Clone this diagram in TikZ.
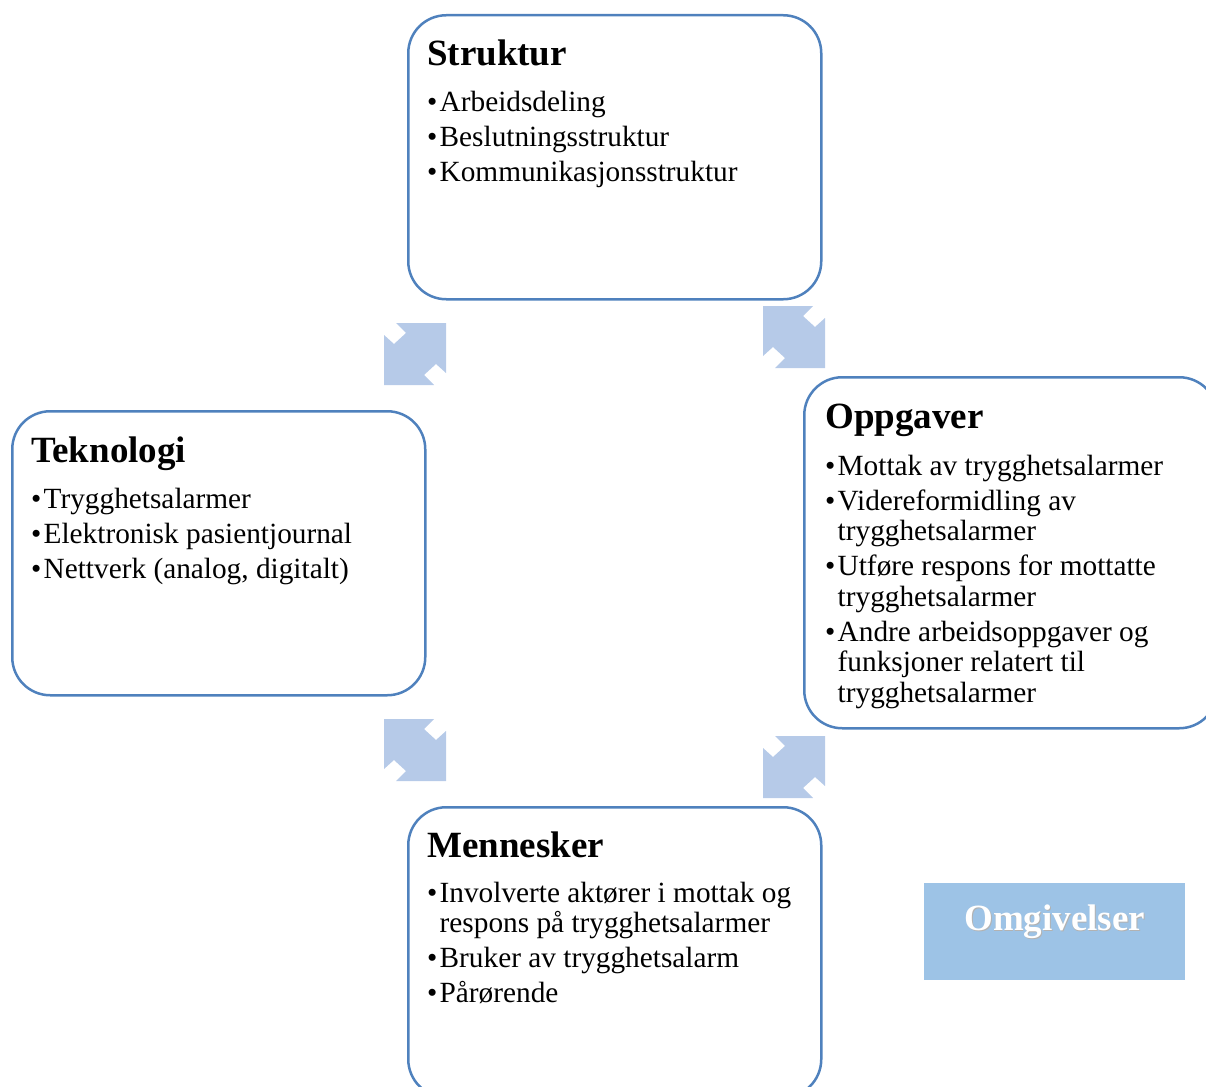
\documentclass[tikz,border=0pt]{standalone}
\usepackage{fontspec}
\setmainfont{Liberation Serif}
\usepackage{xcolor}
\definecolor{boxline}{RGB}{79,129,189}
\definecolor{arrowblue}{RGB}{182,202,232}
\definecolor{envblue}{RGB}{157,195,230}
\newcommand{\bodytext}{\fontsize{29.3}{30.5}\selectfont}
\newcommand{\headtext}{\fontsize{37}{40}\selectfont\bfseries}
\newcommand{\bul}{\par\hangindent=12.5pt\hangafter=1\noindent\makebox[12.5pt][l]{\textbullet}}
\newcommand{\itemlist}[1]{\parbox[t]{380pt}{\bodytext\raggedright\setlength{\parskip}{4.5pt}#1}}

\begin{document}
\begin{tikzpicture}[x=1pt, y=-1pt,
    panel/.style = {draw=boxline, line width=2.5pt, rounded corners=38pt,
      minimum width=413pt, minimum height=284pt, inner sep=0pt, anchor=north west},
    heading/.style = {anchor=base west, inner sep=0pt, font=\headtext},
    items/.style = {anchor=base west, inner sep=0pt},
    notchsq/.pic = {\fill[arrowblue] (12,0) -- (62,0) -- (62,50) -- (52,41) -- (40,52)
      -- (50,62) -- (0,62) -- (0,12) -- (10,21) -- (22,10) -- cycle;}]
    \path[use as bounding box, clip] (0,0) rectangle (1206,1086);

    \node[panel] (struktur) at (407,14) {};
    \node[panel] (teknologi) at (11,410) {};
    \node[panel, minimum height=351pt] (oppgaver) at (803,376) {};
    \node[panel, minimum height=290pt] (mennesker) at (407,806) {};

    \node[heading] (struktur-head) at ([shift={(20,52)}]struktur.north west) {Struktur};
    \node[items] (struktur-items) at ([shift={(20,98)}]struktur.north west) {\itemlist{
        \bul Arbeidsdeling
        \bul Beslutningsstruktur
        \bul Kommunikasjonsstruktur}};

    \node[heading] (teknologi-head) at ([shift={(20,52)}]teknologi.north west) {Teknologi};
    \node[items] (teknologi-items) at ([shift={(20,98)}]teknologi.north west) {\itemlist{
        \bul Trygghetsalarmer
        \bul Elektronisk pasientjournal
        \bul Nettverk (analog, digitalt)}};

    \node[heading] (oppgaver-head) at ([shift={(22,52)}]oppgaver.north west) {Oppgaver};
    \node[items] (oppgaver-items) at ([shift={(22,99)}]oppgaver.north west) {\itemlist{
        \bul Mottak av trygghetsalarmer
        \bul Videreformidling av\newline trygghetsalarmer
        \bul Utføre respons for mottatte\newline trygghetsalarmer
        \bul Andre arbeidsoppgaver og\newline funksjoner relatert til\newline trygghetsalarmer}};

    \node[heading] (mennesker-head) at ([shift={(20,51)}]mennesker.north west) {Mennesker};
    \node[items] (mennesker-items) at ([shift={(20,96)}]mennesker.north west) {\itemlist{
        \bul Involverte aktører i mottak og\newline respons på trygghetsalarmer
        \bul Bruker av trygghetsalarm
        \bul Pårørende}};

    \pic at (384,323) {notchsq};
    \pic[xscale=-1] at (825,306) {notchsq};
    \pic[xscale=-1] at (446,719) {notchsq};
    \pic at (763,736) {notchsq};

    \node[fill=envblue, minimum width=261pt, minimum height=97pt, inner sep=0pt,
      anchor=north west] (omgivelser) at (924,883) {};
    \node[anchor=base, inner sep=0pt, font=\headtext, text=black!30]
      (omgivelser-shadow) at ([shift={(0.8,48.5)}]omgivelser.north) {Omgivelser};
    \node[anchor=base, inner sep=0pt, font=\headtext, text=white]
      (omgivelser-label) at ([shift={(0,47)}]omgivelser.north) {Omgivelser};
\end{tikzpicture}
\end{document}
